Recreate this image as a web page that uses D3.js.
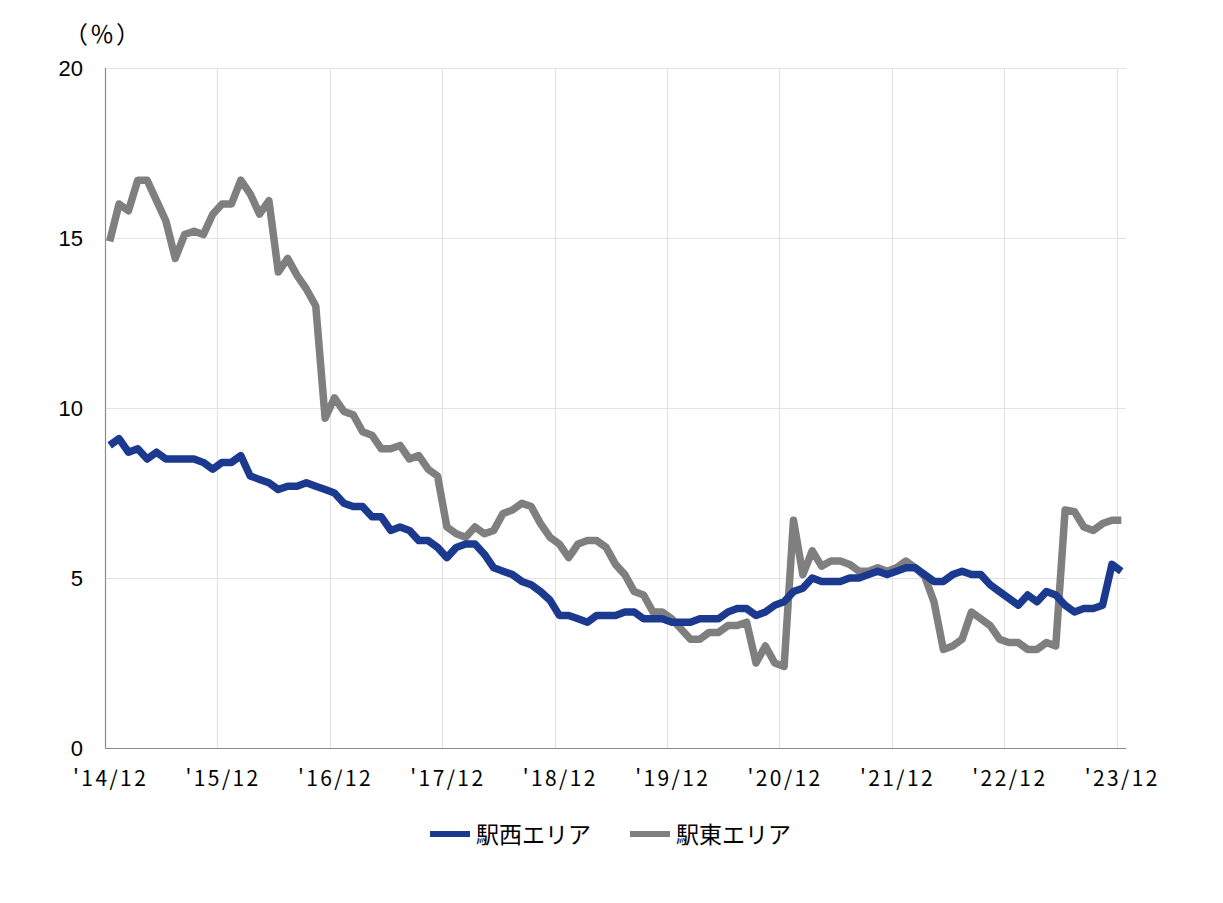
<!DOCTYPE html>
<html lang="ja">
<head>
<meta charset="utf-8">
<script src="https://cdn.jsdelivr.net/npm/d3@7"></script>
<style>
  html, body { margin: 0; padding: 0; background: #fff; }
  .chart svg { display: block; }
  .ylab { font-family: "Liberation Sans", Arial, sans-serif; font-size: 22px; fill: #000; }
  .xlab { font-family: "Noto Sans CJK JP", sans-serif; font-size: 21px; letter-spacing: 2.4px; fill: #000; }
  .legend text { font-family: "Noto Sans CJK JP", sans-serif; font-size: 23px; fill: #000; }
  .unit { font-family: "Noto Sans CJK JP", sans-serif; font-size: 24px; letter-spacing: 2px; fill: #000; }
</style>
</head>
<body>
<div class="chart"></div>
<script>
'use strict';

// monthly, '14/12 .. '23/12 (109 months)
const tickLabels = ["'14/12", "'15/12", "'16/12", "'17/12", "'18/12", "'19/12", "'20/12", "'21/12", "'22/12", "'23/12"];
const yTicks = [0, 5, 10, 15, 20];
const seriesNames = ['駅西エリア', '駅東エリア'];
const colors = ['#1b3a8f', '#7f7f7f'];

const west = [
  8.9, 9.1, 8.7, 8.8, 8.5, 8.7, 8.5, 8.5, 8.5, 8.5, 8.4, 8.2,
  8.4, 8.4, 8.6, 8.0, 7.9, 7.8, 7.6, 7.7, 7.7, 7.8, 7.7, 7.6,
  7.5, 7.2, 7.1, 7.1, 6.8, 6.8, 6.4, 6.5, 6.4, 6.1, 6.1, 5.9,
  5.6, 5.9, 6.0, 6.0, 5.7, 5.3, 5.2, 5.1, 4.9, 4.8, 4.6, 4.35,
  3.9, 3.9, 3.8, 3.7, 3.9, 3.9, 3.9, 4.0, 4.0, 3.8, 3.8, 3.8,
  3.7, 3.7, 3.7, 3.8, 3.8, 3.8, 4.0, 4.1, 4.1, 3.9, 4.0, 4.2,
  4.3, 4.6, 4.7, 5.0, 4.9, 4.9, 4.9, 5.0, 5.0, 5.1, 5.2, 5.1,
  5.2, 5.3, 5.3, 5.1, 4.9, 4.9, 5.1, 5.2, 5.1, 5.1, 4.8, 4.6,
  4.4, 4.2, 4.5, 4.3, 4.6, 4.5, 4.2, 4.0, 4.1, 4.1, 4.2, 5.4,
  5.2
];

const east = [
  14.9, 16.0, 15.8, 16.7, 16.7, 16.1, 15.5, 14.4, 15.1, 15.2, 15.1, 15.7,
  16.0, 16.0, 16.7, 16.3, 15.7, 16.1, 14.0, 14.4, 13.9, 13.5, 13.0, 9.7,
  10.3, 9.9, 9.8, 9.3, 9.2, 8.8, 8.8, 8.9, 8.5, 8.6, 8.2, 8.0,
  6.5, 6.3, 6.2, 6.5, 6.3, 6.4, 6.9, 7.0, 7.2, 7.1, 6.6, 6.2,
  6.0, 5.6, 6.0, 6.1, 6.1, 5.9, 5.4, 5.1, 4.6, 4.5, 4.0, 4.0,
  3.8, 3.5, 3.2, 3.2, 3.4, 3.4, 3.6, 3.6, 3.7, 2.5, 3.0, 2.5,
  2.4, 6.7, 5.1, 5.8, 5.35, 5.5, 5.5, 5.4, 5.2, 5.2, 5.3, 5.2,
  5.3, 5.5, 5.3, 5.05, 4.3, 2.9, 3.0, 3.2, 4.0, 3.8, 3.6, 3.2,
  3.1, 3.1, 2.9, 2.9, 3.1, 3.0, 7.0, 6.95, 6.5, 6.4, 6.6, 6.7,
  6.7
];

const WIDTH = 1223;
const HEIGHT = 903;
const margin = {top: 68, right: 97, bottom: 155, left: 105};

const months = d3.range(west.length);

const svg = d3.select('.chart')
  .append('svg')
    .attr('width', WIDTH)
    .attr('height', HEIGHT);

const x = d3.scaleBand()
    .domain(months)
    .range([margin.left, WIDTH - margin.right])
    .padding(0);

const y = d3.scaleLinear()
    .domain([0, 20])
    .range([HEIGHT - margin.bottom, margin.top]);

const bw = x.bandwidth();

// grid
const grid = svg.append('g').attr('stroke', '#e3e3e3').attr('stroke-width', 1.2);

grid.selectAll('.hgrid')
  .data(yTicks.filter((d) => d > 0))
  .enter().append('line')
    .attr('x1', margin.left)
    .attr('x2', WIDTH - margin.right)
    .attr('y1', (d) => Math.round(y(d)) + 0.5)
    .attr('y2', (d) => Math.round(y(d)) + 0.5);

grid.selectAll('.vgrid')
  .data(months.filter((d) => d > 0 && d % 12 === 0))
  .enter().append('line')
    .attr('x1', (d) => Math.round(x(d)) + 0.5)
    .attr('x2', (d) => Math.round(x(d)) + 0.5)
    .attr('y1', y(20))
    .attr('y2', y(0));

// axes lines
svg.append('line')
    .attr('x1', margin.left + 0.5).attr('x2', margin.left + 0.5)
    .attr('y1', y(20)).attr('y2', y(0))
    .attr('stroke', '#8c8c8c').attr('stroke-width', 1.2);

svg.append('line')
    .attr('x1', margin.left).attr('x2', WIDTH - margin.right)
    .attr('y1', Math.round(y(0)) + 0.5).attr('y2', Math.round(y(0)) + 0.5)
    .attr('stroke', '#8c8c8c').attr('stroke-width', 1.2);

// y labels
svg.selectAll('.ylab')
  .data(yTicks)
  .enter().append('text')
    .attr('class', 'ylab')
    .attr('x', 83)
    .attr('y', (d) => y(d) + 8)
    .attr('text-anchor', 'end')
    .text((d) => d);

svg.append('text')
    .attr('class', 'unit')
    .attr('x', 64)
    .attr('y', 43)
    .text('（％）');

// x labels
const labelMonths = months.filter((d) => d % 12 === 0);
svg.selectAll('.xlab')
  .data(labelMonths)
  .enter().append('text')
    .attr('class', 'xlab')
    .attr('x', (d) => x(d) + bw / 2 + 1)
    .attr('y', 786)
    .attr('text-anchor', 'middle')
    .text((d, i) => tickLabels[i]);

// lines
const line = d3.line()
    .x((d, i) => x(i) + bw / 2)
    .y((d) => y(d));

svg.selectAll('.series')
  .data([east, west])
  .enter().append('path')
    .attr('class', 'series')
    .attr('fill', 'none')
    .attr('stroke', (d, i) => i === 0 ? colors[1] : colors[0])
    .attr('stroke-width', 7.5)
    .attr('stroke-linejoin', 'round')
    .attr('d', line);

// legend
const legend = svg.append('g').attr('class', 'legend');
const legendX = [430, 630];
seriesNames.forEach((name, i) => {
  legend.append('line')
      .attr('x1', legendX[i]).attr('x2', legendX[i] + 40)
      .attr('y1', 834).attr('y2', 834)
      .attr('stroke', colors[i])
      .attr('stroke-width', 6);
  legend.append('text')
      .attr('x', legendX[i] + 46)
      .attr('y', 843)
      .text(name);
});
</script>
</body>
</html>
